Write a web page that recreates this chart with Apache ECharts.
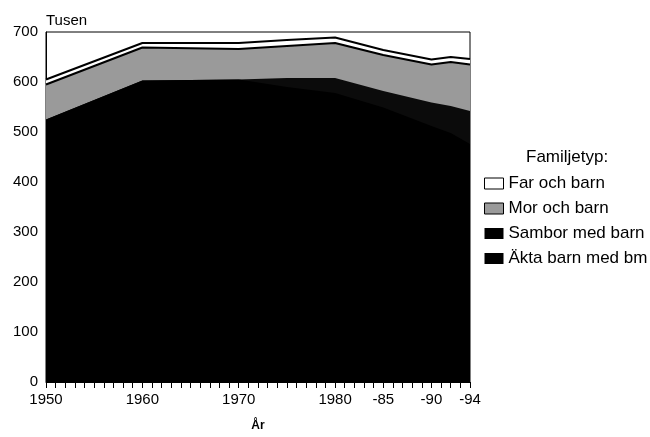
<!DOCTYPE html>
<html>
<head>
<meta charset="utf-8">
<script src="https://cdn.jsdelivr.net/npm/echarts@6/dist/echarts.min.js"></script>
<style>
html,body{margin:0;padding:0;background:#fff;}
#chart{width:650px;height:437px;}
</style>
</head>
<body>
<div id="chart"></div>
<script>
// Data (thousands of families)
var years = [1950, 1960, 1970, 1975, 1980, 1985, 1990, 1992, 1994];
var aktaBarn = [525, 603, 605, 590, 578, 549, 512, 498, 476];
var samborBarn = [0, 0, 0, 18, 30, 33, 47, 54, 66];
var morBarn = [70, 66, 61, 64, 70, 72, 76, 88, 93];
var farBarn = [10, 9, 12, 12, 11, 10, 10, 10, 11];

var tickYears = [1950, 1960, 1970, 1980, 1985, 1990, 1994];
var tickLabels = ['1950', '1960', '1970', '1980', '-85', '-90', '-94'];

var seriesNames = ['Äkta barn med bm', 'Sambor med barn', 'Mor och barn', 'Far och barn'];

// cumulative (stacked) tops, built from the arrays above
var layers = [aktaBarn, samborBarn, morBarn, farBarn];
var cum = [];
var run = years.map(function () { return 0; });
layers.forEach(function (arr) {
  run = run.map(function (v, i) { return v + arr[i]; });
  cum.push(run.slice());
});
function pairs(vals) {
  return years.map(function (y, i) { return [y, vals[i]]; });
}

var FONT = '"Liberation Sans", Arial, Helvetica, sans-serif';
var chart = echarts.init(document.getElementById('chart'), null, {renderer: 'canvas'});

var fills = ['#000', '#0b0b0b', '#9a9a9a', '#fff'];
var lineW = [0, 0, 2, 2];
var series = [];
for (var k = 3; k >= 0; k--) {
  series.push({
    name: seriesNames[k], type: 'line', data: pairs(cum[k]),
    showSymbol: false, symbol: 'none', z: 2 + (3 - k),
    lineStyle: {width: lineW[k], color: '#000'},
    itemStyle: {color: fills[k]},
    areaStyle: {color: fills[k], opacity: 1, origin: 'start'}
  });
}

chart.setOption({
  animation: false,
  backgroundColor: '#fff',
  textStyle: {fontFamily: FONT, color: '#000'},
  grid: {left: 46, right: 180, top: 32, bottom: 52, show: true, borderColor: '#000', borderWidth: 1, backgroundColor: 'transparent'},
  graphic: [{
    type: 'text', left: 526, top: 149,
    style: {text: 'Familjetyp:', font: '17px ' + FONT, fill: '#000'}
  }],
  legend: {
    orient: 'vertical',
    left: 479, top: 170,
    icon: 'rect',
    itemWidth: 19, itemHeight: 11,
    itemGap: 8,
    textStyle: {fontFamily: FONT, fontSize: 17, color: '#000', lineHeight: 17},
    data: [
      {name: 'Far och barn', itemStyle: {color: '#fff', borderColor: '#000', borderWidth: 1}},
      {name: 'Mor och barn', itemStyle: {color: '#9a9a9a', borderColor: '#000', borderWidth: 1}},
      {name: 'Sambor med barn', itemStyle: {color: '#000', borderWidth: 0}},
      {name: 'Äkta barn med bm', itemStyle: {color: '#000', borderWidth: 0}}
    ]
  },
  xAxis: {
    type: 'value', min: 1950, max: 1994, interval: 1,
    name: 'År', nameLocation: 'middle', nameGap: 38,
    nameTextStyle: {fontFamily: FONT, fontSize: 12, fontWeight: 'bold', color: '#000'},
    axisLine: {show: true, lineStyle: {color: '#000', width: 1}},
    axisTick: {show: true, length: 6, lineStyle: {color: '#000', width: 1}},
    splitLine: {show: false},
    axisLabel: {
      fontFamily: FONT, fontSize: 15, color: '#000', margin: 10,
      showMinLabel: true, showMaxLabel: true,
      formatter: function (v) {
        var i = tickYears.indexOf(Math.round(v));
        return i >= 0 ? tickLabels[i] : '';
      }
    }
  },
  yAxis: {
    type: 'value', min: 0, max: 700, interval: 100,
    name: 'Tusen', nameLocation: 'end', nameGap: 11,
    nameTextStyle: {fontFamily: FONT, fontSize: 15, color: '#000', align: 'left', verticalAlign: 'middle'},
    axisLine: {show: true, lineStyle: {color: '#000', width: 1}},
    axisTick: {show: false},
    splitLine: {show: false},
    axisLabel: {fontFamily: FONT, fontSize: 15, color: '#000', margin: 8}
  },
  series: series
});
</script>
</body>
</html>
